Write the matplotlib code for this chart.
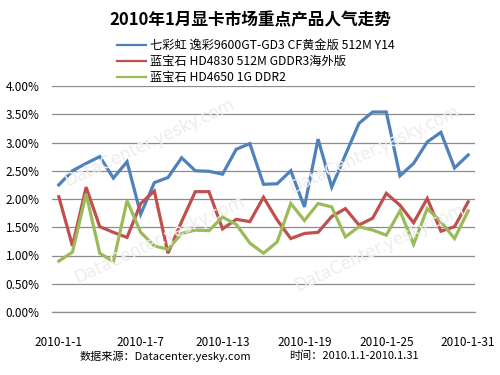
import matplotlib
matplotlib.use("Agg")
import matplotlib.pyplot as plt
from matplotlib.ticker import FuncFormatter, MultipleLocator

plt.rcParams['font.family'] = ['Noto Sans CJK SC', 'DejaVu Sans']

dates = [f"2010-1-{d}" for d in range(1, 32)]
tick_labels = ["2010-1-1", "2010-1-7", "2010-1-13", "2010-1-19", "2010-1-25", "2010-1-31"]

series_names = [
    "七彩虹 逸彩9600GT-GD3 CF黄金版 512M Y14",
    "蓝宝石 HD4830 512M GDDR3海外版",
    "蓝宝石 HD4650 1G DDR2",
]
blue = [2.25, 2.50, 2.63, 2.75, 2.37, 2.66, 1.73, 2.29, 2.38, 2.73, 2.50, 2.49, 2.44, 2.88, 2.98,
        2.26, 2.27, 2.50, 1.86, 3.06, 2.21, 2.78, 3.34, 3.54, 3.54, 2.41, 2.63, 3.01, 3.18, 2.55, 2.78]
red = [2.04, 1.17, 2.21, 1.51, 1.41, 1.32, 1.92, 2.14, 1.04, 1.60, 2.13, 2.13, 1.47, 1.64, 1.60,
       2.03, 1.63, 1.30, 1.39, 1.41, 1.69, 1.83, 1.54, 1.66, 2.10, 1.89, 1.58, 2.01, 1.43, 1.51, 1.95]
green = [0.90, 1.06, 2.09, 1.04, 0.89, 1.97, 1.41, 1.17, 1.11, 1.39, 1.45, 1.44, 1.68, 1.55, 1.22,
         1.04, 1.24, 1.92, 1.62, 1.92, 1.86, 1.33, 1.51, 1.45, 1.36, 1.79, 1.20, 1.83, 1.60, 1.30, 1.79]
colors = ["#4F81BD", "#C0504D", "#9BBB59"]

fig = plt.figure(figsize=(5, 3.75), dpi=100)
fig.patch.set_facecolor("white")

# faint watermarks inside the plot region
wm = "DataCenter.yesky.com"
for (wx, wy) in [(0.30, 0.62), (0.75, 0.60), (0.32, 0.36), (0.76, 0.34)]:
    fig.text(wx, wy, wm, fontsize=12, color="#ededed", rotation=25,
             ha="center", va="center", family="DejaVu Sans", zorder=0)

ax = fig.add_axes([52/500, 1-312/375, (475-52)/500, (312-86)/375])
ax.patch.set_alpha(0)
x = list(range(len(dates)))
handles = []
for vals, c, name in zip([blue, red, green], colors, series_names):
    h, = ax.plot(x, [v / 100 for v in vals], color=c, lw=2.3, label=name, zorder=3,
                 solid_joinstyle="miter")
    handles.append(h)

ax.set_xlim(-0.5, len(dates) - 0.5)
ax.set_ylim(0, 0.04)
ax.yaxis.set_major_locator(MultipleLocator(0.005))
ax.yaxis.set_major_formatter(FuncFormatter(lambda v, p: f"{v*100:.2f}%"))
ax.set_xticks([dates.index(t) for t in tick_labels])
ax.set_xticklabels(tick_labels)
ax.grid(axis="y", color="#8c8c8c", lw=0.9)
for s in ["top", "right", "left"]:
    ax.spines[s].set_visible(False)
ax.spines["bottom"].set_color("#8c8c8c")
ax.spines["bottom"].set_linewidth(0.9)
ax.tick_params(axis="both", length=0, labelsize=8.5, colors="black")
ax.tick_params(axis="x", pad=17)
ax.tick_params(axis="y", pad=9)

fig.text(0.5, 1-20/375, "2010年1月显卡市场重点产品人气走势", ha="center", va="center",
         fontsize=12, fontweight="bold")

leg = fig.legend(handles=handles, labels=series_names, loc="upper left",
                 bbox_to_anchor=(112/500, 1-34/375), frameon=False, fontsize=8.8,
                 handlelength=2.4, handletextpad=0.35, labelspacing=0.25, borderaxespad=0)
for lh in leg.get_lines():
    lh.set_linewidth(1.6)

fig.text(80/500, 1-356/375, "数据来源：Datacenter.yesky.com", ha="left", va="center", fontsize=8)
fig.text(289/500, 1-356/375, "时间：2010.1.1-2010.1.31", ha="left", va="center", fontsize=8)

fig.savefig("out.png", dpi=100)
